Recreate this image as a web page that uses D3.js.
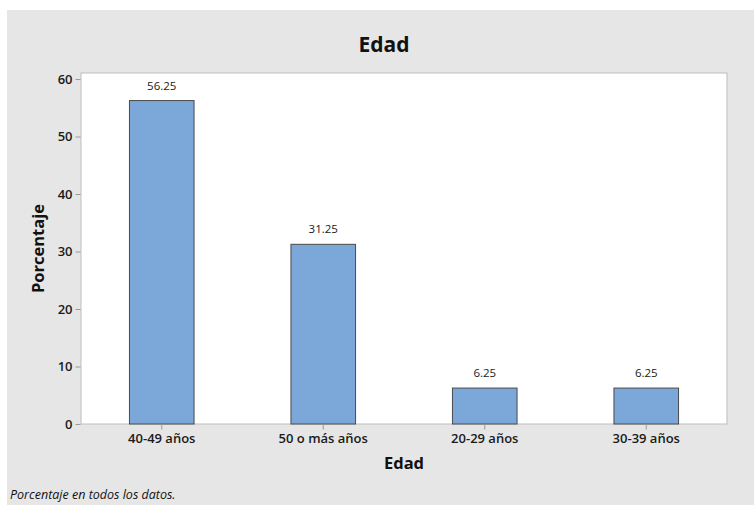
<!DOCTYPE html>
<html>
<head>
<meta charset="utf-8">
<script src="https://cdn.jsdelivr.net/npm/d3@7"></script>
<style>
  html, body { margin: 0; padding: 0; background: #ffffff; }
  svg { display: block; font-family: "Open Sans", "Noto Sans", sans-serif; }
</style>
</head>
<body>
<svg id="chart" width="754" height="505"></svg>
<script>
// Age groups and their share of all responses (%)
const categories = ["40-49 años", "50 o más años", "20-29 años", "30-39 años"];
const percentages = [56.25, 31.25, 6.25, 6.25];
const yTicks = [0, 10, 20, 30, 40, 50, 60];

const chartTitle = "Edad";
const xTitle = "Edad";
const yTitle = "Porcentaje";
const footnote = "Porcentaje en todos los datos.";

const svg = d3.select("#chart");
const W = 754, H = 505;

// Grey backdrop panel
svg.append("rect")
  .attr("x", 7).attr("y", 10)
  .attr("width", W - 7).attr("height", H - 10)
  .attr("fill", "#e6e6e6");

const plot = { left: 81, top: 73, right: 727, bottom: 424 };

const x = d3.scaleBand()
  .domain(categories)
  .range([plot.left, plot.right])
  .paddingInner(0.6)
  .paddingOuter(0.3);

const y = d3.scaleLinear()
  .domain([0, 60])
  .range([plot.bottom, 79]);

// Plot area
svg.append("rect")
  .attr("x", plot.left).attr("y", plot.top)
  .attr("width", plot.right - plot.left)
  .attr("height", plot.bottom - plot.top)
  .attr("fill", "#ffffff")
  .attr("stroke", "#bdbdbd")
  .attr("stroke-width", 1);

// Bars
svg.append("g").selectAll("rect")
  .data(categories)
  .join("rect")
  .attr("x", d => x(d))
  .attr("y", (d, i) => y(percentages[i]))
  .attr("width", x.bandwidth())
  .attr("height", (d, i) => y(0) - y(percentages[i]))
  .attr("fill", "#7ba7d9")
  .attr("stroke", "#4a4a4a")
  .attr("stroke-width", 1);

// Value labels
svg.append("g").selectAll("text")
  .data(categories)
  .join("text")
  .attr("x", d => x(d) + x.bandwidth() / 2)
  .attr("y", (d, i) => y(percentages[i]) - 11)
  .attr("text-anchor", "middle")
  .attr("font-size", 11.5)
  .attr("fill", "#1a1a1a")
  .text((d, i) => percentages[i].toFixed(2));

// Y axis
const yAxis = svg.append("g")
  .attr("transform", `translate(${plot.left - 0.5},0)`)
  .call(d3.axisLeft(y).tickValues(yTicks).tickSize(5).tickPadding(3));
yAxis.select(".domain").remove();
yAxis.selectAll(".tick line").attr("stroke", "#9a9a9a");
yAxis.selectAll(".tick text")
  .attr("font-size", 13).attr("font-weight", 600)
  .attr("fill", "#1a1a1a")
  .attr("font-family", "'Open Sans', 'Noto Sans', sans-serif");

// X axis
const xAxis = svg.append("g")
  .attr("transform", `translate(0,${plot.bottom + 0.5})`)
  .call(d3.axisBottom(x).tickSize(5).tickPadding(4));
xAxis.select(".domain").remove();
xAxis.selectAll(".tick line").attr("stroke", "#9a9a9a");
xAxis.selectAll(".tick text")
  .attr("font-size", 13).attr("font-weight", 600)
  .attr("fill", "#1a1a1a")
  .attr("font-family", "'Open Sans', 'Noto Sans', sans-serif");

// Titles
svg.append("text")
  .attr("x", 384).attr("y", 52)
  .attr("text-anchor", "middle")
  .attr("font-size", 21).attr("font-weight", 700)
  .attr("fill", "#111")
  .text(chartTitle);

svg.append("text")
  .attr("x", (plot.left + plot.right) / 2).attr("y", 469)
  .attr("text-anchor", "middle")
  .attr("font-size", 16.5).attr("font-weight", 700)
  .attr("fill", "#111")
  .text(xTitle);

svg.append("text")
  .attr("transform", `translate(44,${(plot.top + plot.bottom) / 2}) rotate(-90)`)
  .attr("text-anchor", "middle")
  .attr("font-size", 16.5).attr("font-weight", 700)
  .attr("fill", "#111")
  .text(yTitle);

// Footnote
svg.append("text")
  .attr("x", 10).attr("y", 499)
  .attr("font-size", 12.5).attr("font-style", "italic")
  .attr("fill", "#111")
  .text(footnote);
</script>
</body>
</html>
